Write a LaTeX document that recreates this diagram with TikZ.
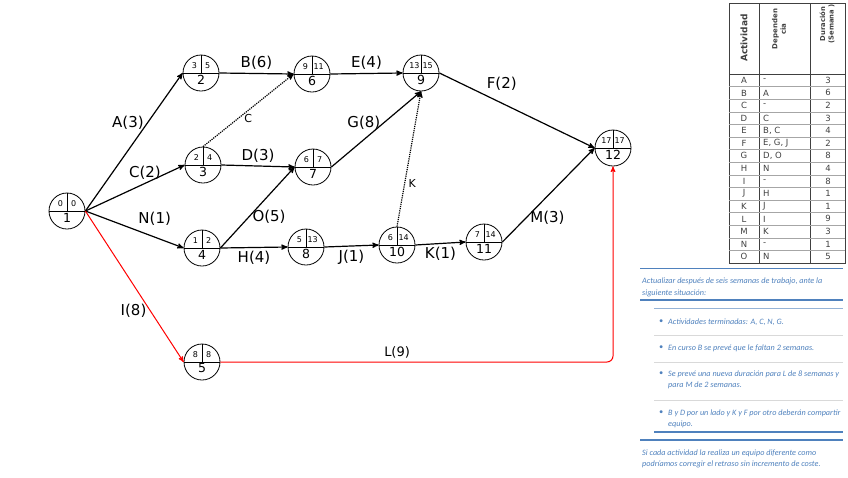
\documentclass[tikz,border=0pt]{standalone}
\usepackage{fontspec}
\setmainfont{DejaVu Sans}
\newfontfamily\carlito{Carlito}
\usepackage{tikz}
\usetikzlibrary{arrows}
\definecolor{azul}{HTML}{4F81BD}
\definecolor{azulclaro}{HTML}{95B3D7}
\definecolor{gris}{HTML}{D9D9D9}
\definecolor{tinta}{HTML}{404040}
\tikzset{
  evento/.style={circle,draw,line width=0.8pt,minimum size=36pt,inner sep=0pt,
    path picture={\draw[line width=0.6pt] (path picture bounding box.west) -- (path picture bounding box.east);
      \draw[line width=0.6pt] (path picture bounding box.center) -- (path picture bounding box.north);}},
  ti/.style={font=\fontsize{8}{9}\selectfont,inner sep=0pt,xshift=-6.6pt,yshift=7pt},
  tt/.style={font=\fontsize{8}{9}\selectfont,inner sep=0pt,xshift=6.6pt,yshift=7pt},
  nn/.style={font=\fontsize{12.5}{14}\selectfont,inner sep=0pt,yshift=-6.5pt},
  act/.style={line width=1.2pt},
  fic/.style={line width=1.2pt,densely dotted},
  crit/.style={line width=1pt,red},
  nota/.style={font=\carlito\itshape\fontsize{8.2}{9}\selectfont,text=azul,anchor=west,inner sep=0pt},
  celda/.style={font=\fontsize{8.5}{10}\selectfont,text=tinta,inner sep=0pt},
  cabecera/.style={font=\bfseries\fontsize{6.8}{8.5}\selectfont,text=tinta,rotate=90,align=center,inner sep=0pt}
}
\begin{document}
\begin{tikzpicture}[x=1pt,y=-1pt,>=stealth',font=\fontsize{15}{18}\selectfont]
    \useasboundingbox (0,0) rectangle (848,477);
    % eventos
    \node[evento,label={[ti]center:0},label={[tt]center:0},label={[nn]center:1}] (n1) at (67,211) {};
    \node[evento,label={[ti]center:3},label={[tt]center:5},label={[nn]center:2}] (n2) at (201,73) {};
    \node[evento,label={[ti]center:2},label={[tt]center:4},label={[nn]center:3}] (n3) at (203,165) {};
    \node[evento,label={[ti]center:1},label={[tt]center:2},label={[nn]center:4}] (n4) at (202,248) {};
    \node[evento,label={[ti]center:8},label={[tt]center:8},label={[nn]center:5}] (n5) at (202,362) {};
    \node[evento,label={[ti]center:9},label={[tt]center:11},label={[nn]center:6}] (n6) at (312,74) {};
    \node[evento,label={[ti]center:6},label={[tt]center:7},label={[nn]center:7}] (n7) at (313,167) {};
    \node[evento,label={[ti]center:5},label={[tt]center:13},label={[nn]center:8}] (n8) at (306,247) {};
    \node[evento,label={[ti]center:13},label={[tt]center:15},label={[nn]center:9}] (n9) at (421,73) {};
    \node[evento,label={[ti]center:6},label={[tt]center:14},label={[nn]center:10}] (n10) at (397,245) {};
    \node[evento,label={[ti]center:7},label={[tt]center:14},label={[nn]center:11}] (n11) at (484,242) {};
    \node[evento,label={[ti]center:17},label={[tt]center:17},label={[nn]center:12}] (n12) at (613,148) {};
    % actividades
    \draw[act,->] (n1.east) -- node[pos=0.64,left]{A(3)} (n2.west);
    \draw[act,->] (n1.east) -- node[pos=0.6,above]{C(2)} (n3.west);
    \draw[act,->] (n1.east) -- node[pos=0.5,above right]{N(1)} (n4.west);
    \draw[act,->] (n2.east) -- node[above]{B(6)} (n6.west);
    \draw[act,->] (n3.east) -- node[above]{D(3)} (n7.west);
    \draw[act,->] (n4.east) -- node[pos=0.38,right]{O(5)} (n7.west);
    \draw[act,->] (n4.east) -- node[below]{H(4)} (n8.west);
    \draw[act,->] (n6.east) -- node[above]{E(4)} (n9.west);
    \draw[act,->] (n7.east) -- node[pos=0.59,left]{G(8)} (n9.south);
    \draw[act,->] (n8.east) -- node[below]{J(1)} (n10.west);
    \draw[act,->] (n10.east) -- node[below]{K(1)} (n11.west);
    \draw[act,->] (n9.east) -- node[pos=0.28,above right]{F(2)} (n12.west);
    \draw[act,->] (n11.east) -- node[pos=0.26,right]{M(3)} (n12.west);
    \draw[fic,->] (n3.north) -- node[below,font=\fontsize{11}{13}\selectfont]{C} (n6.west);
    \draw[fic,->] (n10.north) -- node[pos=0.32,right,font=\fontsize{11}{13}\selectfont]{K} (n9.south);
    \draw[crit,->] (n1.east) -- node[pos=0.66,left,text=black]{I(8)} (n5.west);
    \draw[crit,->,rounded corners=6pt] (n5.east) -| node[pos=0.225,above,text=black,font=\fontsize{13}{15}\selectfont]{L(9)} (n12.south);
    % tabla
    \draw[tinta,line width=0.7pt] (729,3) rectangle (845,263);
    \draw[tinta,line width=0.7pt] (759,3) -- (759,263);
    \draw[tinta,line width=0.7pt] (810,3) -- (810,263);
    \draw[tinta,line width=0.7pt] (729,74) -- (845,74);
    \foreach \i in {1,...,14}
        \draw[gray!70,line width=0.5pt] (729,{74+12.6*\i}) -- (845,{74+12.6*\i});
    \node[cabecera,font=\bfseries\fontsize{9}{10}\selectfont] (hact) at (744,38) {Actividad};
    \node[cabecera,font=\bfseries\fontsize{7}{8.5}\selectfont] (hdep) at (779,29) {Dependen\\cia};
    \node[cabecera] (hdur) at (827,24) {Duración\\(Semana )};
    \foreach \ac/\de/\du [count=\i] in {A/-/3,B/A/6,C/-/2,D/C/3,E/{B, C}/4,F/{E, G, J}/2,G/{D, O}/8,H/N/4,I/-/8,J/H/1,K/J/1,L/I/9,M/K/3,N/-/1,O/N/5} {
        \node[celda] (a\i) at (744,{67.7+12.6*\i}) {\ac};
        \node[celda,anchor=west] (d\i) at (763,{67.7+12.6*\i}) {\de};
        \node[celda] (t\i) at (828,{67.7+12.6*\i}) {\du};
    }
    % situacion
    \draw[azul,line width=1pt] (640,268) -- (843,268);
    \node[nota] (s1) at (642,281) {Actualizar después de seis semanas de trabajo, ante la};
    \node[nota] (s2) at (642,293) {siguiente situación:};
    \draw[azul,line width=1.8pt] (640,300) -- (843,300);
    \draw[azulclaro,line width=1pt] (654,308) -- (843,308);
    \node[nota] (b1) at (659,322) {•};
    \node[nota] (p1) at (668,322) {Actividades terminadas: A, C, N, G.};
    \draw[gris,line width=0.6pt] (654,335) -- (843,335);
    \node[nota] (b2) at (659,348) {•};
    \node[nota] (p2) at (668,348) {En curso B se prevé que le faltan 2 semanas.};
    \draw[gris,line width=0.6pt] (654,362) -- (843,362);
    \node[nota] (b3) at (659,374) {•};
    \node[nota] (p3) at (668,374) {Se prevé una nueva duración para L de 8 semanas y};
    \node[nota] (p3b) at (668,385) {para M de 2 semanas.};
    \draw[gris,line width=0.6pt] (654,400) -- (843,400);
    \node[nota] (b4) at (659,413) {•};
    \node[nota] (p4) at (668,413) {B y D por un lado y K y F por otro deberán compartir};
    \node[nota] (p4b) at (668,424) {equipo.};
    \draw[azul,line width=1.2pt] (654,432) -- (843,432);
    \draw[azul,line width=1.8pt] (640,440) -- (843,440);
    \node[nota] (q1) at (642,453) {Si cada actividad la realiza un equipo diferente como};
    \node[nota] (q2) at (642,464) {podríamos corregir el retraso sin incremento de coste.};
\end{tikzpicture}
\end{document}
